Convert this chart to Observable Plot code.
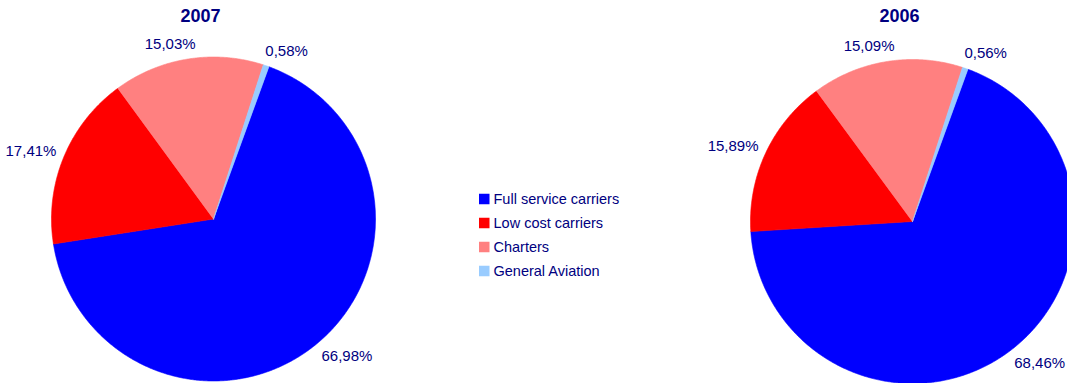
<!DOCTYPE html>
<html>
<head>
<meta charset="utf-8">
<script src="https://cdn.jsdelivr.net/npm/d3@7"></script>
<script src="https://cdn.jsdelivr.net/npm/@observablehq/plot@0.6"></script>
<style>
  html, body { margin: 0; padding: 0; background: #ffffff; overflow: hidden; }
  #chart { width: 1067px; height: 383px; }
</style>
</head>
<body>
<div id="chart"></div>
<script>
// ---- Data ----
const categories = ["Full service carriers", "Low cost carriers", "Charters", "General Aviation"];
const years = ["2007", "2006"];
const share2007 = [66.98, 17.41, 15.03, 0.58];
const share2006 = [68.46, 15.89, 15.09, 0.56];
const labels2007 = ["66,98%", "17,41%", "15,03%", "0,58%"];
const labels2006 = ["68,46%", "15,89%", "15,09%", "0,56%"];
const colors = ["#0000FF", "#FF0000", "#FF8080", "#99CCFF"];

// ---- Layout (code, not data) ----
const W = 1067, H = 383;
const radius = 162;
const centers = { "2007": [213, 218.5], "2006": [912, 221] };
const startDeg = 20;
const textColor = "#000080";
const labelSize = 15;

const series = { "2007": { values: share2007, labels: labels2007 },
                 "2006": { values: share2006, labels: labels2006 } };

const pie = d3.pie().sort(null)
  .startAngle(startDeg * Math.PI / 180)
  .endAngle((startDeg + 360) * Math.PI / 180);

function textWidth(s, size) {
  let w = 0;
  for (const ch of s) {
    if (ch >= "0" && ch <= "9") w += 0.556;
    else if (ch === "," || ch === ".") w += 0.278;
    else if (ch === "%") w += 0.889;
    else w += 0.55;
  }
  return w * size;
}

const slicePts = [];
const labelRows = [];
for (const yr of years) {
  const [cx, cy] = centers[yr];
  const arcs = pie(series[yr].values);
  arcs.forEach((a, i) => {
    const key = yr + "|" + categories[i];
    const n = Math.max(2, Math.ceil((a.endAngle - a.startAngle) / (0.4 * Math.PI / 180)) + 1);
    slicePts.push({ key, category: categories[i], x: cx, y: cy });
    for (let k = 0; k < n; k++) {
      const t = a.startAngle + (a.endAngle - a.startAngle) * k / (n - 1);
      slicePts.push({ key, category: categories[i], x: cx + radius * Math.sin(t), y: cy - radius * Math.cos(t) });
    }
    slicePts.push({ key, category: categories[i], x: cx, y: cy });
    // label: "outside end" placement along the mid-angle, box pushed outward
    const mid = (a.startAngle + a.endAngle) / 2;
    const s = Math.sin(mid), c = Math.cos(mid);
    const txt = series[yr].labels[i];
    const ha = textWidth(txt, labelSize) / 2, hb = labelSize / 2;
    const R = radius + 8;
    const dx = ha * Math.sign(s) * Math.min(1, 0.45 + 1.2 * Math.abs(s));
    const dy = -hb * c;
    labelRows.push({ text: txt, x: cx + R * s + dx, y: cy - R * c + dy });
  });
}

const titleRows = years.map(yr => ({ text: yr, x: centers[yr][0] - 13, y: 16 }));

// legend
const legX = 479, legY0 = 199, legStep = 24, sq = 10.5;
const legendRows = categories.map((cat, i) => ({
  category: cat,
  x1: legX, x2: legX + sq,
  y1: legY0 + i * legStep - sq / 2, y2: legY0 + i * legStep + sq / 2,
  tx: legX + sq + 3.5, ty: legY0 + i * legStep
}));

const chart = Plot.plot({
  width: W,
  height: H,
  margin: 0,
  x: { type: "identity" },
  y: { type: "identity" },
  color: { domain: categories, range: colors },
  style: { fontFamily: "'Liberation Sans', Arial, Helvetica, sans-serif", background: "#ffffff" },
  marks: [
    Plot.line(slicePts, { x: "x", y: "y", z: "key", fill: "category", stroke: "category", strokeWidth: 0.6, curve: "linear-closed" }),
    Plot.text(labelRows, { x: "x", y: "y", text: "text", fill: textColor, fontSize: labelSize, textAnchor: "middle", lineAnchor: "middle" }),
    Plot.text(titleRows, { x: "x", y: "y", text: "text", fill: textColor, fontSize: 18, fontWeight: "bold", textAnchor: "middle", lineAnchor: "middle" }),
    Plot.rect(legendRows, { x1: "x1", x2: "x2", y1: "y1", y2: "y2", fill: "category" }),
    Plot.text(legendRows, { x: "tx", y: "ty", text: "category", fill: textColor, fontSize: 14.5, textAnchor: "start", lineAnchor: "middle" })
  ]
});
document.getElementById("chart").appendChild(chart);
</script>
</body>
</html>
